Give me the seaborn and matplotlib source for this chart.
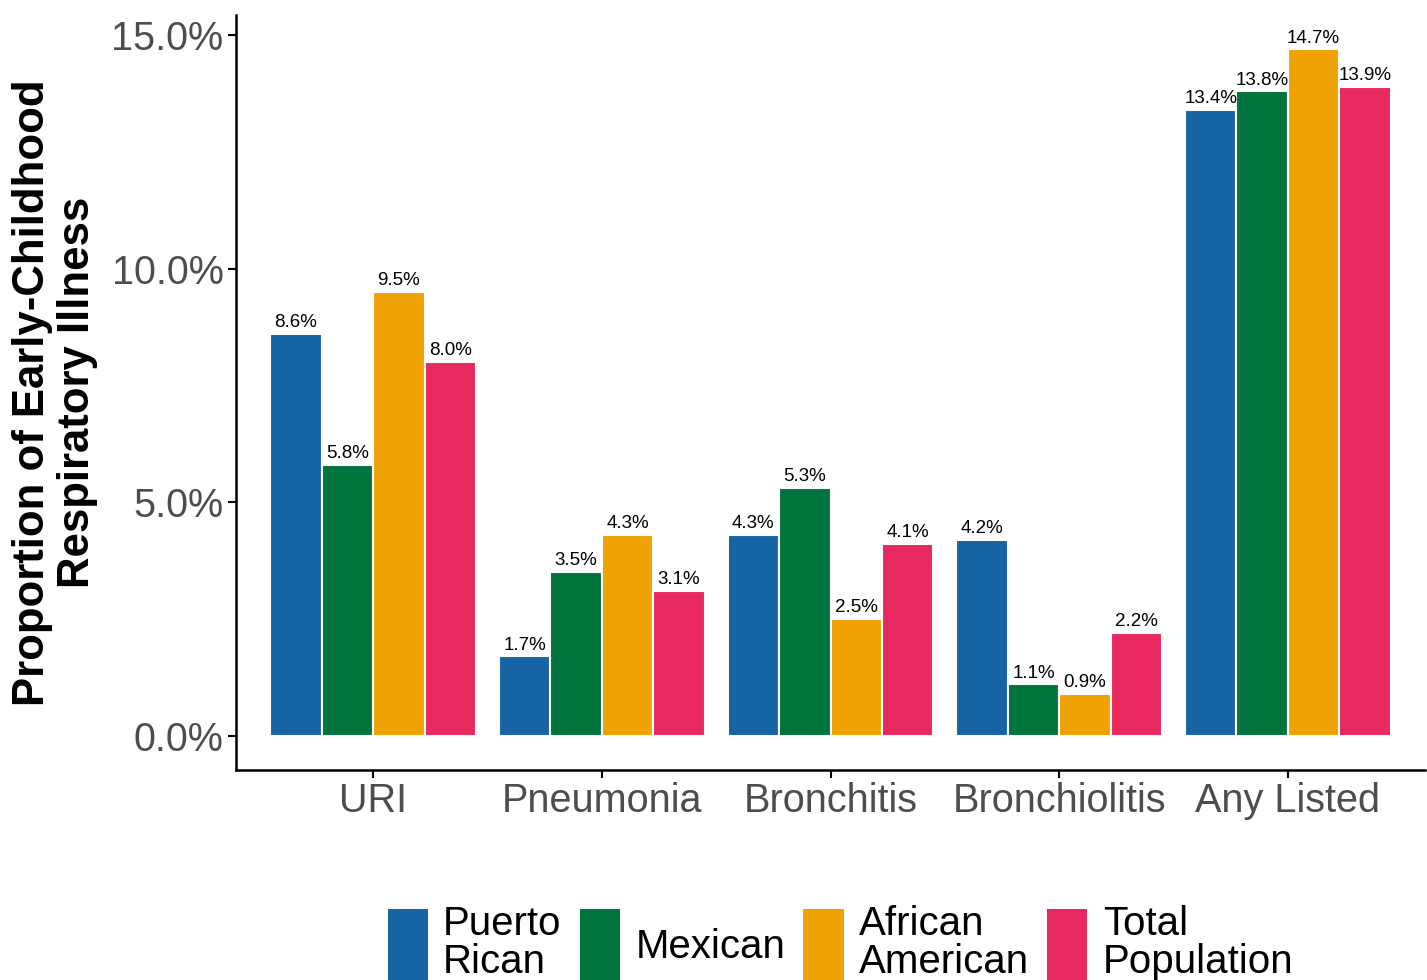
import matplotlib.pyplot as plt
import seaborn as sns
import pandas as pd
from matplotlib.ticker import FuncFormatter

plt.switch_backend("Agg")

illnesses = ["URI", "Pneumonia", "Bronchitis", "Bronchiolitis", "Any Listed"]
groups = ["Puerto\nRican", "Mexican", "African\nAmerican", "Total\nPopulation"]
puerto_rican = [8.6, 1.7, 4.3, 4.2, 13.4]
mexican = [5.8, 3.5, 5.3, 1.1, 13.8]
african_american = [9.5, 4.3, 2.5, 0.9, 14.7]
total_population = [8.0, 3.1, 4.1, 2.2, 13.9]
colors = ["#1764A4", "#00743C", "#F0A202", "#E8295F"]


def build_frame():
    rows = []
    for grp, vals in zip(groups, [puerto_rican, mexican, african_american, total_population]):
        for ill, v in zip(illnesses, vals):
            rows.append({"Illness": ill, "Group": grp, "Pct": v})
    return pd.DataFrame(rows)


def main():
    df = build_frame()
    sns.set_style("white")
    plt.rcParams["font.family"] = ["Liberation Sans", "DejaVu Sans"]

    fig = plt.figure(figsize=(14.27, 9.8), dpi=100)
    ax = fig.add_axes([0.1654, 0.2143, 0.8332, 0.7704])

    sns.barplot(data=df, x="Illness", y="Pct", hue="Group", hue_order=groups,
                order=illnesses, palette=colors, width=0.9, edgecolor="white",
                linewidth=1.5, errorbar=None, saturation=1, ax=ax)

    for cont in ax.containers:
        ax.bar_label(cont, labels=[f"{b.get_height():.1f}%" for b in cont],
                     padding=2, fontsize=13.5, color="black")

    ax.set_xlim(-0.6, 4.6)
    ax.set_ylim(-0.735, 15.435)
    ax.set_yticks([0, 5, 10, 15])
    ax.yaxis.set_major_formatter(FuncFormatter(lambda v, p: f"{v:.1f}%"))
    ax.set_xlabel("")
    ax.set_ylabel("Proportion of Early-Childhood\nRespiratory Illness",
                  fontsize=31.5, fontweight="bold", labelpad=10, linespacing=1.12,
                  color="black")

    for side in ["top", "right"]:
        ax.spines[side].set_visible(False)
    for side in ["left", "bottom"]:
        ax.spines[side].set_linewidth(1.8)
        ax.spines[side].set_color("black")
    ax.tick_params(axis="both", which="major", direction="out", length=6, width=1.5,
                   color="black", labelsize=28.5, labelcolor="#4D4D4D", pad=3,
                   left=True, bottom=True)

    handles, labels = ax.get_legend_handles_labels()
    ax.legend_.remove()
    leg = fig.legend(handles, labels, loc="lower center", bbox_to_anchor=(0.589, -0.002),
                     ncol=4, frameon=False, fontsize=29, handlelength=1.0,
                     handleheight=2.4, handletextpad=0.38, columnspacing=0.45,
                     borderpad=0.0, borderaxespad=0.0)
    for t in leg.get_texts():
        t.set_linespacing(1.02)
        t.set_color("black")
    for h in leg.legend_handles:
        h.set_edgecolor("none")

    fig.savefig("out.png", dpi=100)
    plt.close(fig)


main()
